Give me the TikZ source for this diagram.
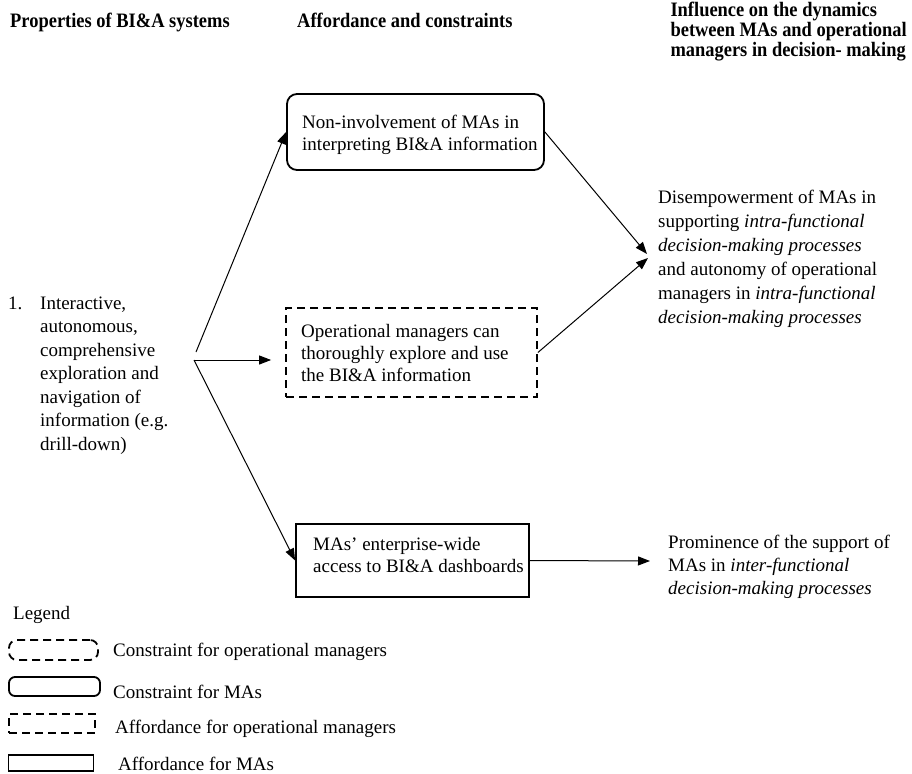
\documentclass[tikz,border=0pt]{standalone}
\usepackage{fontspec}
\setmainfont{Liberation Serif}
\newfontfamily\headfont[FakeStretch=0.9]{Liberation Serif Bold}
\usetikzlibrary{arrows.meta}
\newcommand\firstln{\rule{0pt}{14pt}}
\newcommand\headln{\rule{0pt}{15pt}}
\begin{document}
\begin{tikzpicture}[x=1pt,y=-1pt,
  txt/.style={inner sep=0pt, anchor=north west, align=left, font=\fontsize{19}{22}\selectfont},
  rtxt/.style={txt, font=\fontsize{19}{24}\selectfont},
  head/.style={inner sep=0pt, anchor=north west, align=left, font=\headfont\fontsize{20.5}{20}\selectfont},
  boxbase/.style={inner sep=0pt, line width=1.8pt},
  cma/.style={boxbase, draw, rounded corners=10pt},
  cop/.style={boxbase, draw, dash pattern=on 8pt off 5pt, rounded corners=8pt},
  aop/.style={boxbase, draw, dash pattern=on 8pt off 5pt},
  ama/.style={boxbase, draw},
  arr/.style={-{Triangle[length=12pt,width=9pt]}, line width=1pt}]
\useasboundingbox (0,0) rectangle (912,773);

% headings
\node[head] (h1) at (10,12) {\headln Properties of BI\&A systems};
\node[head] (h2) at (297,12) {\headln Affordance and constraints};
\node[head, anchor=north east] (h3) at (907,1) {\headln Influence on the dynamics\\between MAs and operational\\managers in decision- making};

% left text
\node[txt, font=\fontsize{19}{23.5}\selectfont] (n1) at (8,295) {\firstln 1.};
\node[txt, font=\fontsize{19}{23.5}\selectfont] (lt) at (40,295) {\firstln Interactive,\\autonomous,\\comprehensive\\exploration and\\navigation of\\information (e.g.\\drill-down)};

% boxes
\node[cma, minimum width=257pt, minimum height=76pt] (b1) at (415.5,132) {};
\node[txt] (t1) at (302,114) {\firstln Non-involvement of MAs in\\interpreting BI\&A information};

\node[aop, minimum width=251pt, minimum height=89pt] (b2) at (411.5,352.5) {};
\node[txt] (t2) at (301,323) {\firstln Operational managers can\\thoroughly explore and use\\the BI\&A information};

\node[ama, minimum width=233pt, minimum height=73pt] (b3) at (412.5,560.5) {};
\node[txt] (t3) at (313,536) {\firstln MAs' enterprise-wide\\access to BI\&A dashboards};

% right texts
\node[rtxt] (r1) at (658,189) {\firstln Disempowerment of MAs in\\supporting \textit{intra-functional}\\\textit{decision-making processes}\\and autonomy of operational\\managers in \textit{intra-functional}\\\textit{decision-making processes}};
\node[txt, font=\fontsize{19}{23}\selectfont] (r2) at (668,534) {\firstln Prominence of the support of\\MAs in \textit{inter-functional}\\\textit{decision-making processes}};

% connectors
\coordinate (brU) at (196,352);
\coordinate (br) at (194,360);
\coordinate (m1) at (647,254);
\coordinate (m2) at (648,258);
\coordinate (pe) at (650,561);
\draw[arr] (brU) -- (b1.west);
\draw[arr] (br) -- ([xshift=-14pt]b2.west |- br);
\draw[arr] (br) -- (b3.west);
\draw[arr] (b1.east) -- (m1);
\draw[arr] (b2.east) -- (m2);
\draw[arr] (b3.east) -- (pe);

% legend
\node[txt] (lg) at (13,605) {\firstln Legend};
\node[cop, minimum width=89pt, minimum height=20pt] (l1) at (53.5,650) {};
\node[txt] (lt1) at (113,642) {\firstln Constraint for operational managers};
\node[cma, rounded corners=6pt, minimum width=91pt, minimum height=19pt] (l2) at (54.5,686.5) {};
\node[txt] (lt2) at (113,684) {\firstln Constraint for MAs};
\node[aop, minimum width=86pt, minimum height=19pt] (l3) at (52,723.5) {};
\node[txt] (lt3) at (115,719) {\firstln Affordance for operational managers};
\node[ama, minimum width=85pt, minimum height=16pt] (l4) at (51,763) {};
\node[txt] (lt4) at (118,756) {\firstln Affordance for MAs};
\end{tikzpicture}
\end{document}
